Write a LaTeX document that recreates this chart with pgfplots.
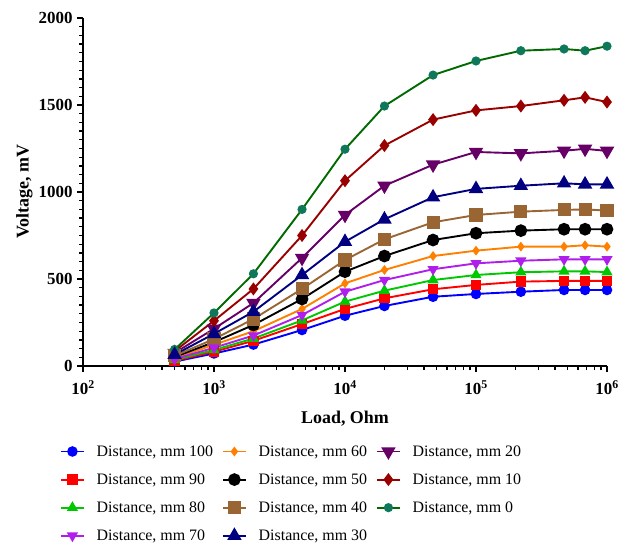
\documentclass[border=0pt]{standalone}
\usepackage{pgfplots}
\pgfplotsset{compat=1.18}
\usepackage{fontspec}
\setmainfont{Liberation Serif}

\definecolor{cA}{RGB}{0,0,255}     % 100 mm
\definecolor{cB}{RGB}{255,0,0}     % 90 mm
\definecolor{cC}{RGB}{0,200,0}     % 80 mm
\definecolor{cD}{RGB}{175,30,235}  % 70 mm
\definecolor{cE}{RGB}{255,128,0}   % 60 mm
\definecolor{cF}{RGB}{0,0,0}       % 50 mm
\definecolor{cG}{RGB}{153,102,51}  % 40 mm
\definecolor{cH}{RGB}{0,0,128}     % 30 mm
\definecolor{cI}{RGB}{102,0,102}   % 20 mm
\definecolor{cJ}{RGB}{153,0,0}     % 10 mm
\definecolor{cK}{RGB}{0,105,0}     % 0 mm, line
\definecolor{cKm}{RGB}{16,120,90}  % 0 mm, marks

\pgfplotstableread{
R       d100 d90 d80 d70 d60 d50 d40 d30 d20 d10 d0
500     25   30  35  40  45  52  58  65  75  85  95
1000    72   82  92  105 122 137 155 185 214 260 305
2000    123  145 158 175 200 236 270 312 362 443 530
4700    207  241 262 293 328 385 443 523 621 750 900
10000   289  328 370 427 475 542 609 714 868 1065 1246
20000   345  389 433 494 552 632 728 843 1036 1267 1494
47000   398  441 494 556 632 724 826 970 1157 1416 1672
100000  414  466 523 590 663 763 868 1018 1230 1469 1753
220000  427  485 539 605 686 778 887 1036 1222 1494 1812
470000  437  489 544 613 686 786 897 1050 1237 1527 1822
680000  437  489 544 613 694 786 900 1044 1248 1544 1812
1000000 437  489 540 613 686 786 893 1044 1236 1517 1838
}\datatable

\begin{document}
\begin{tikzpicture}
\begin{axis}[
  name=ax,
  scale only axis, width=524bp, height=348bp,
  xmode=log, xmin=100, xmax=1e6, ymin=0, ymax=2000,
  axis lines*=left,
  axis line style={line width=1.6pt},
  clip=false,
  xtick={1e2,1e3,1e4,1e5,1e6},
  xticklabels={10\textsuperscript{2},10\textsuperscript{3},10\textsuperscript{4},10\textsuperscript{5},10\textsuperscript{6}},
  minor xtick={200,300,400,500,600,700,800,900,2000,3000,4000,5000,6000,7000,8000,9000,
    20000,30000,40000,50000,60000,70000,80000,90000,200000,300000,400000,500000,600000,700000,800000,900000},
  ytick={0,500,1000,1500,2000},
  minor y tick num=9,
  tick align=outside,
  major tick length=6bp, minor tick length=4bp,
  every major tick/.append style={line width=1.6pt, black},
  every minor tick/.append style={line width=1.3pt, black},
  /pgf/number format/assume math mode=true,
  /pgf/number format/1000 sep={},
  tick label style={font=\fontsize{17}{20}\selectfont\bfseries},
  xticklabel style={yshift=-5bp},
  yticklabel style={xshift=-1bp},
  label style={font=\fontsize{18}{21}\selectfont\bfseries},
  xlabel={Load, Ohm},
  ylabel={Voltage, mV},
  xlabel style={at={(axis description cs:0.5,-0.152)}, anchor=center},
  ylabel style={at={(axis description cs:-0.112,0.5)}, anchor=center},
  every axis plot/.append style={line width=1.9pt},
  legend image code/.code={%
    \draw[mark repeat=2,mark phase=2] plot coordinates {(0cm,0cm) (0.4cm,0cm) (0.8cm,0cm)};},
  legend columns=3,
  legend cell align=left,
  legend style={at={(axis description cs:-0.044,-0.222)}, anchor=north west,
    draw=none, fill=none, inner sep=0pt,
    font=\fontsize{16}{19}\selectfont,
    row sep=12bp,
    /tikz/every odd column/.append style={column sep=10bp},
    /tikz/every even column/.append style={column sep=7bp}},
]
% entries are added row by row, so the order fills the three legend columns
\addplot[cA, mark=*, mark size=4.3bp, mark options={fill=cA, draw=cA}] table[x=R, y=d100] {\datatable};
\addlegendentry{Distance, mm 100}
\addplot[cE, mark=diamond*, mark size=3.4bp, mark options={fill=cE, draw=cE}] table[x=R, y=d60] {\datatable};
\addlegendentry{Distance, mm 60}
\addplot[cI, mark=triangle*, mark size=6.5bp, mark options={rotate=180, fill=cI, draw=cI}] table[x=R, y=d20] {\datatable};
\addlegendentry{Distance, mm 20}

\addplot[cB, mark=square*, mark size=4.2bp, mark options={fill=cB, draw=cB}] table[x=R, y=d90] {\datatable};
\addlegendentry{Distance, mm 90}
\addplot[cF, mark=*, mark size=5.4bp, mark options={fill=cF, draw=cF}] table[x=R, y=d50] {\datatable};
\addlegendentry{Distance, mm 50}
\addplot[cJ, mark=diamond*, mark size=5bp, mark options={fill=cJ, draw=cJ}] table[x=R, y=d10] {\datatable};
\addlegendentry{Distance, mm 10}

\addplot[cC, mark=triangle*, mark size=4.6bp, mark options={fill=cC, draw=cC}] table[x=R, y=d80] {\datatable};
\addlegendentry{Distance, mm 80}
\addplot[cG, mark=square*, mark size=5.6bp, mark options={fill=cG, draw=cG}] table[x=R, y=d40] {\datatable};
\addlegendentry{Distance, mm 40}
\addplot[cK, mark=*, mark size=3.6bp, mark options={fill=cKm, draw=cKm}] table[x=R, y=d0] {\datatable};
\addlegendentry{Distance, mm 0}

\addplot[cD, mark=triangle*, mark size=4.6bp, mark options={rotate=180, fill=cD, draw=cD}] table[x=R, y=d70] {\datatable};
\addlegendentry{Distance, mm 70}
\addplot[cH, mark=triangle*, mark size=6.5bp, mark options={fill=cH, draw=cH}] table[x=R, y=d30] {\datatable};
\addlegendentry{Distance, mm 30}
\end{axis}
\pgfresetboundingbox
\path[use as bounding box] (ax.south west) ++(-83bp,-184bp) rectangle ++(620bp,550bp);
\end{tikzpicture}
\end{document}
